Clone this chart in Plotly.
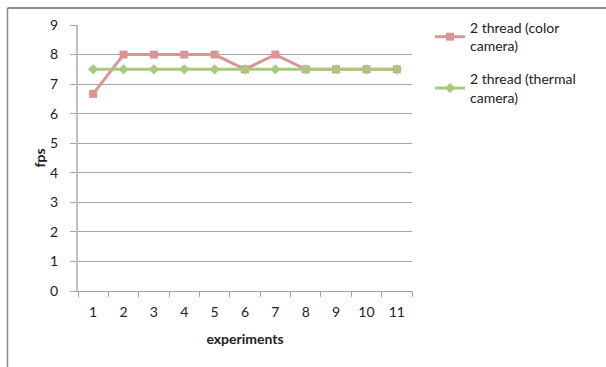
import plotly.graph_objects as go

experiments = ["1", "2", "3", "4", "5", "6", "7", "8", "9", "10", "11"]
color_fps = [6.67, 8, 8, 8, 8, 7.5, 8, 7.5, 7.5, 7.5, 7.5]
thermal_fps = [7.5, 7.5, 7.5, 7.5, 7.5, 7.5, 7.5, 7.5, 7.5, 7.5, 7.5]
y_ticks = [0, 1, 2, 3, 4, 5, 6, 7, 8, 9]

FONT = "Lato"

fig = go.Figure()
fig.add_trace(go.Scatter(
    x=experiments, y=color_fps, mode="lines+markers",
    name="2 thread (color<br>camera)",
    line=dict(color="#D99694", width=3),
    marker=dict(symbol="square", size=8, color="#D99694"),
    legendgroup="a",
))
fig.add_trace(go.Scatter(
    x=experiments, y=thermal_fps, mode="lines+markers",
    name="2 thread (thermal<br>camera)",
    line=dict(color="#A9C97F", width=3),
    marker=dict(symbol="diamond", size=8, color="#A9C97F"),
    legendgroup="b",
))

fig.update_layout(
    width=606, height=367,
    margin=dict(l=78, r=194, t=25, b=76, autoexpand=False),
    paper_bgcolor="white", plot_bgcolor="white",
    font=dict(family=FONT, size=14, color="#222222"),
    showlegend=True,
    legend=dict(x=(430 - 78) / 334, y=(291 - 12) / 266, xanchor="left", yanchor="top",
                font=dict(family=FONT, size=14, color="#222222"),
                tracegroupgap=12, traceorder="grouped",
                bgcolor="rgba(0,0,0,0)"),
    xaxis=dict(
        type="category", range=[-0.5, 10.5], tickson="boundaries", ticks="outside", ticklen=5,
        tickcolor="#a0a0a0", showline=True, linecolor="#a0a0a0", linewidth=1,
        showgrid=False, ticklabelstandoff=8, automargin=False,
        title=dict(text="<b>experiments</b>", font=dict(family=FONT, size=14), standoff=15),
    ),
    yaxis=dict(
        range=[0, 9], tickvals=y_ticks, ticks="outside", ticklen=6,
        tickcolor="#a0a0a0", showline=True, linecolor="#bfbfbf", linewidth=2,
        showgrid=True, gridcolor="#a6a6a6", gridwidth=1, zeroline=False,
        ticklabelstandoff=9, automargin=False,
        title=dict(text="<b>fps</b>", font=dict(family=FONT, size=14), standoff=1),
    ),
    shapes=[
        dict(type="line", xref="paper", yref="paper", xsizemode="pixel", ysizemode="pixel",
             xanchor=0, yanchor=1, x0=7.5 - 78, x1=606 - 78, y0=291 - 8 - 266, y1=291 - 8 - 266,
             line=dict(color="#8c8c8c", width=2), layer="above"),
        dict(type="line", xref="paper", yref="paper", xsizemode="pixel", ysizemode="pixel",
             xanchor=0, yanchor=1, x0=7.5 - 78, x1=7.5 - 78, y0=291 - 367 - 266, y1=291 - 8 - 266,
             line=dict(color="#8c8c8c", width=1.5), layer="above"),
    ],
)

fig.write_html("out.html", config={"displayModeBar": False},
               post_script="document.body.style.margin='0';document.body.style.padding='0';"
                           "document.documentElement.style.overflow='hidden';window.scrollTo(0,0);")
